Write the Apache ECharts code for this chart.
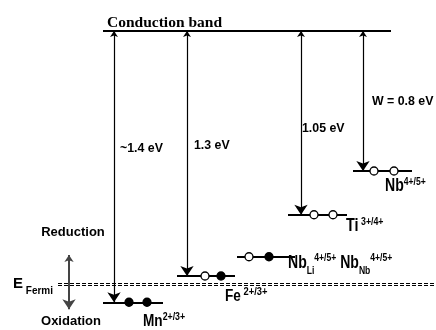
<!DOCTYPE html>
<html><head><meta charset="utf-8">
<script src="https://cdn.jsdelivr.net/npm/echarts@6/dist/echarts.min.js"></script>
<style>html,body{margin:0;padding:0;background:#fff}#c{width:436px;height:330px}</style>
</head><body><div id="c"></div>
<script>
// ---- data (depth below the conduction band, eV, as drawn) ----
const levelNames  = ['Mn', 'Fe', 'NbLi', 'Ti', 'Nb'];
const levelDepth  = [1.55, 1.40, 1.29, 1.05, 0.80];
const levelStart  = [103, 177, 237, 288, 353];
const levelEnd    = [163, 235, 295, 347, 412];
const dot1X       = [129, 205, 249, 314, 374];
const dot2X       = [147, 221, 269, 333, 394];
const dot1Filled  = [true, false, false, false, false];
const dot2Filled  = [true, true, true, false, false];
const conductionDepth = 0;
const conductionRange = [103, 391];
const fermiDepths = [1.44, 1.452];
const fermiRange  = [58, 436];
const gapArrowX     = [114, 187, 301, 363];
const gapArrowLevel = [0, 1, 3, 4];
const gapLabels     = ['~1.4 eV', '1.3 eV', '1.05 eV', 'W = 0.8 eV'];
const gapLabelX     = [120, 194, 302, 372];
const gapLabelDepth = [0.672, 0.652, 0.555, 0.40];
const redoxArrowX = 69;
const redoxArrowRange = [1.28, 1.59];

// ---- series ----
const levelLines = levelNames.map((n, i) => ({ coords: [[levelStart[i], levelDepth[i]], [levelEnd[i], levelDepth[i]]] }));
levelLines.push({ coords: [[conductionRange[0], conductionDepth], [conductionRange[1], conductionDepth]] });
const fermiLines = fermiDepths.map(d => ({ coords: [[fermiRange[0], d], [fermiRange[1], d]] }));
const gapArrows = gapArrowX.map((x, i) => ({ coords: [[x, conductionDepth], [x, levelDepth[gapArrowLevel[i]]]] }));
const dots = [];
levelNames.forEach((n, i) => {
  dots.push({ value: [dot1X[i], levelDepth[i]], itemStyle: { color: dot1Filled[i] ? '#000' : '#fff' } });
  dots.push({ value: [dot2X[i], levelDepth[i]], itemStyle: { color: dot2Filled[i] ? '#000' : '#fff' } });
});

// ---- text helpers ----
const mctx = document.createElement('canvas').getContext('2d');
const SANS = '"Liberation Sans", Arial, sans-serif';
function fontStr(size) { return 'bold ' + size + 'px ' + SANS; }
function richLabel(x, baseline, parts, sx) {
  const els = [];
  let cx = x;
  parts.forEach(p => {
    const [t, size, dy] = p;
    mctx.font = fontStr(size);
    const w = mctx.measureText(t).width * sx;
    els.push({
      type: 'text', x: cx, y: baseline + dy - 0.36 * size, scaleX: sx, scaleY: 1,
      style: { text: t, font: fontStr(size), fill: '#000', align: 'left', verticalAlign: 'middle' }
    });
    cx += w;
  });
  return els;
}
function plain(x, y, t, size, align, sx) {
  return { type: 'text', x: x, y: y, scaleX: sx || 1,
    style: { text: t, font: fontStr(size), fill: '#000', align: align || 'left', verticalAlign: 'middle' } };
}

const chart = echarts.init(document.getElementById('c'), null, { renderer: 'canvas' });
const graphics = [];
graphics.push({ type: 'text', x: 107, y: 23,
  style: { text: 'Conduction band', font: 'bold 15.5px "Liberation Serif", "Times New Roman", serif', fill: '#000', align: 'left', verticalAlign: 'middle' } });
gapLabels.forEach((t, i) => {
  const y = 31 + gapLabelDepth[i] * 175;
  graphics.push(plain(gapLabelX[i], y, t, 13, 'left', 0.95));
});
graphics.push(plain(73, 232, 'Reduction', 13, 'center', 1));
graphics.push(plain(71, 321, 'Oxidation', 13, 'center', 1));
graphics.push(...richLabel(13, 289, [['E', 15, 0], [' ', 10, 0], ['Fermi', 10, 6]], 1));
graphics.push(...richLabel(143, 327, [['Mn', 17, 0], ['2+/3+', 11, -6]], 0.8));
graphics.push(...richLabel(225, 302, [['Fe', 16, 0], [' 2+/3+', 11, -6]], 0.85));
graphics.push(...richLabel(288, 270, [['Nb', 18, 0], ['Li', 11, 5], ['4+/5+', 11, -8], [' Nb', 18, 0], ['Nb', 11, 5], ['4+/5+', 11, -8]], 0.78));
graphics.push(...richLabel(346, 233, [['Ti', 18, 0], [' 3+/4+', 11, -7]], 0.8));
graphics.push(...richLabel(385, 193, [['Nb', 18, 0], ['4+/5+', 11, -7]], 0.78));

chart.setOption({
  animation: false,
  backgroundColor: '#fff',
  grid: { left: 0, top: 31, width: 436, height: 280 },
  xAxis: { type: 'value', min: 0, max: 436, show: false },
  yAxis: { type: 'value', min: 0, max: 1.6, inverse: true, show: false },
  series: [
    { type: 'lines', coordinateSystem: 'cartesian2d', data: fermiLines, symbol: 'none',
      lineStyle: { color: '#000', width: 1.2, type: [4, 2], opacity: 1 }, silent: true },
    { type: 'lines', coordinateSystem: 'cartesian2d', data: levelLines, symbol: 'none',
      lineStyle: { color: '#000', width: 2, opacity: 1 }, silent: true },
    { type: 'lines', coordinateSystem: 'cartesian2d', data: gapArrows, symbol: ['arrow', 'arrow'], symbolSize: [6, 10],
      lineStyle: { color: '#000', width: 1.2, opacity: 1 }, silent: true },
    { type: 'lines', coordinateSystem: 'cartesian2d',
      data: [{ coords: [[redoxArrowX, redoxArrowRange[0]], [redoxArrowX, redoxArrowRange[1]]] }],
      symbol: ['arrow', 'arrow'], symbolSize: [7, 10],
      lineStyle: { color: '#444', width: 2, opacity: 1 }, silent: true, z: 3 },
    { type: 'scatter', data: dots, symbol: 'circle', symbolSize: 8,
      itemStyle: { borderColor: '#000', borderWidth: 1.3, opacity: 1 }, silent: true, z: 5 }
  ],
  graphic: graphics
});
</script></body></html>
